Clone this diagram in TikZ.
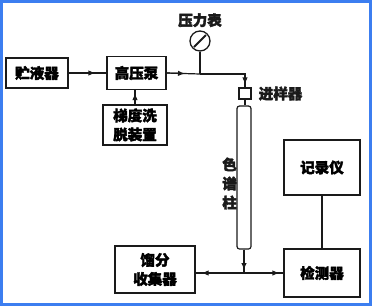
\documentclass[tikz,border=0pt]{standalone}
\usepackage{fontspec}
\setmainfont{Noto Sans CJK SC}[FakeBold=2.5]
\usepackage{tikz}
\usepackage{xcolor}
\usetikzlibrary{arrows.meta, positioning, calc}
\definecolor{marco}{HTML}{3C7EF0}
\definecolor{tinta}{HTML}{1A1A1A}

\begin{document}
\begin{tikzpicture}[
  x=1pt, y=-1pt,
  font=\bfseries\fontsize{14.5}{19}\selectfont,
  caja/.style={draw=tinta, line width=1.2pt, inner sep=0pt, align=center},
  tubo/.style={draw=tinta, line width=1.2pt},
  flecha/.style={tubo, -{Latex[length=7pt,width=5.5pt]}},
  lbl/.style={text=tinta, inner sep=0pt},
]

% --- Marco ---
\useasboundingbox (0,0) rectangle (372,306);
\draw[marco, line width=3pt] (1.5,1.5) rectangle (370.5,304.5);

% --- Bloques ---
\node[caja, minimum width=62pt, minimum height=30pt] (deposito) at (37,73) {贮液器};
\node[caja, minimum width=59pt, minimum height=33pt] (bomba) at (136.5,73) {高压泵};
\node[caja, minimum width=64pt, minimum height=40pt] (gradiente) at (135,125) {梯度洗\\脱装置};
\node[caja, minimum width=12pt, minimum height=11pt] (inyector) at (245,93.5) {};
\node[caja, minimum width=14pt, minimum height=143pt, rounded corners=2.5pt] (columna) at (244,177.5) {};
\node[caja, minimum width=76pt, minimum height=55pt] (registro) at (322,167.5) {记录仪};
\node[caja, minimum width=76pt, minimum height=48pt] (detector) at (322,273) {检测器};
\node[caja, minimum width=80pt, minimum height=47pt] (colector) at (155,269.5) {馏分\\收集器};

% --- Manometro ---
\node[circle, draw=tinta, line width=1.3pt, minimum size=20pt, inner sep=0pt] (manometro) at (200,41) {};
\draw[tinta, line width=1.8pt] ($(manometro.center)+(-6,6)$) -- ($(manometro.center)+(6,-6)$);

% --- Etiquetas ---
\node[lbl, above=3pt of manometro] (lblman) {压力表};
\node[lbl, right=7pt of inyector] (lbliny) {进样器};
\node[lbl, align=center, left=7pt of columna.center, yshift=-6pt] (lblcol) {色\\谱\\柱};

% --- Puntos de union ---
\coordinate (te) at (200,74);
\coordinate (codo) at (inyector.north |- te);
\coordinate (cruce) at (columna.south |- detector.west);

% --- Tuberias ---
\draw[tubo] (deposito.east |- bomba.west) -- (bomba.west);
\draw[tubo] (gradiente.north) -- (gradiente.north |- bomba.south);
\draw[tubo] (bomba.east) -- (te);
\draw[tubo] (manometro.south) -- (te);
\draw[tubo] (te) -- (codo) -- (inyector.north);
\draw[tubo] (inyector.south) -- (columna.north -| inyector.south);
\draw[tubo] (columna.south) -- (cruce);
\draw[tubo] (cruce) -- (colector.east |- cruce);
\draw[tubo] (cruce) -- (detector.west);
\draw[tubo] (registro.south) -- (detector.north);

% --- Sentido del flujo ---
\draw[flecha, shorten >=11pt] (deposito.east |- bomba.west) -- (bomba.west);
\draw[flecha, shorten >=3pt] (gradiente.north) -- (gradiente.north |- bomba.south);
\draw[flecha, shorten >=15pt] (bomba.east) -- (te);
\draw[flecha, shorten >=3pt] (codo) -- (inyector.north);
\draw[flecha, shorten >=3pt] (columna.south) -- (cruce);
\draw[flecha, shorten >=6pt] (cruce) -- (colector.east |- cruce);
\draw[flecha, shorten >=4pt] (cruce) -- (detector.west);

\end{tikzpicture}
\end{document}
